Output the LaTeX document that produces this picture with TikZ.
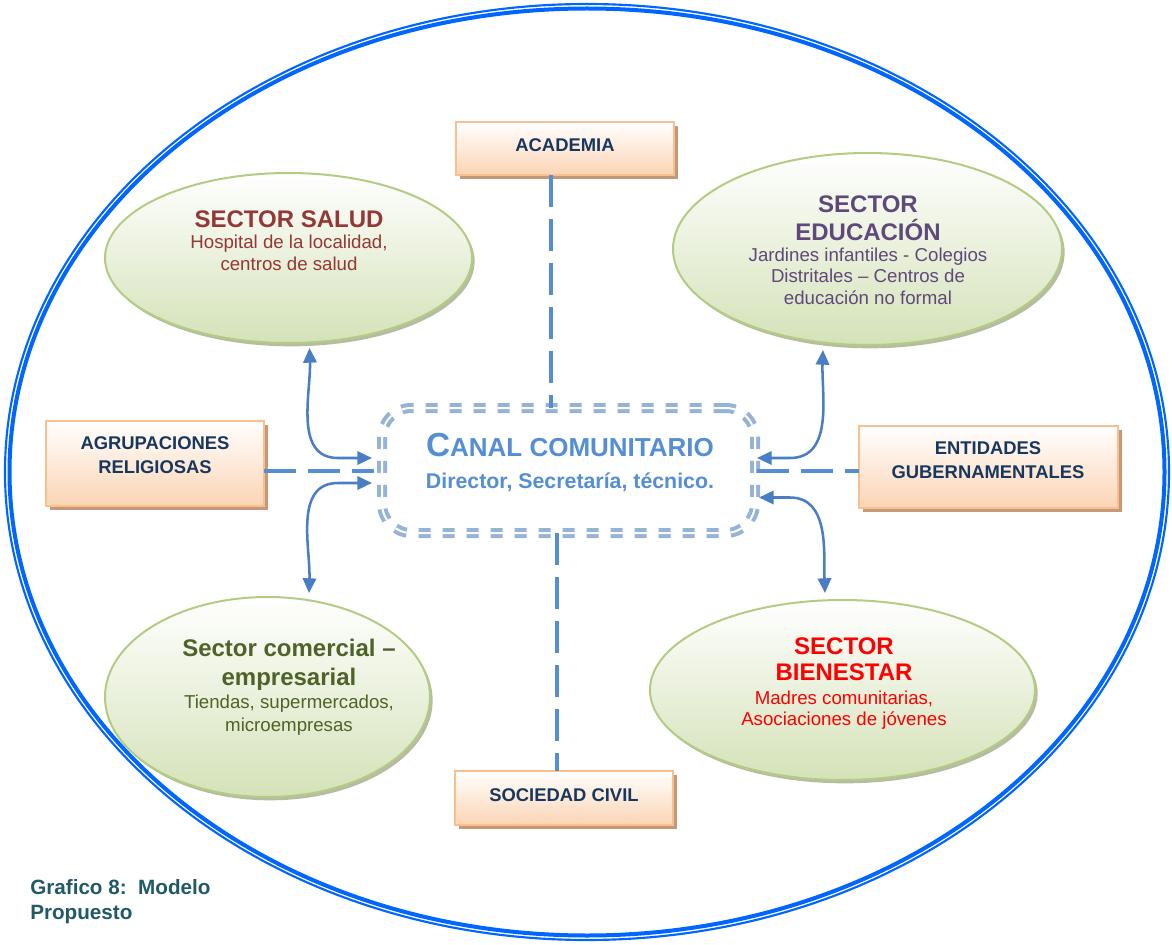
\documentclass[tikz,border=0pt]{standalone}
\usepackage{fontspec}
\setmainfont{Liberation Sans}
\usetikzlibrary{shapes.geometric,shadows,arrows.meta,calc}
\definecolor{outerblue}{RGB}{0,102,255}
\definecolor{ellborder}{RGB}{180,204,130}
\definecolor{ellfill}{RGB}{212,226,184}
\definecolor{ellshadow}{RGB}{150,160,125}
\definecolor{boxborder}{RGB}{250,191,143}
\definecolor{boxfill}{RGB}{251,212,180}
\definecolor{boxshadow}{RGB}{196,152,120}
\definecolor{canalb}{RGB}{149,179,215}
\definecolor{dashc}{RGB}{85,142,213}
\definecolor{arrowc}{RGB}{74,126,196}
\definecolor{saludc}{RGB}{149,55,53}
\definecolor{educc}{RGB}{95,73,122}
\definecolor{comc}{RGB}{79,98,40}
\definecolor{bienc}{RGB}{255,0,0}
\definecolor{navyc}{RGB}{23,55,94}
\definecolor{canalt}{RGB}{85,142,213}
\definecolor{capc}{RGB}{33,89,104}
\newcommand{\pxu}{0.75pt}
\newcommand{\hd}{\fontsize{18}{20}\selectfont\bfseries}
\begin{document}
\begin{tikzpicture}[x=0.75pt,y=0.75pt,
  sect/.style={ellipse, draw=ellborder, line width=1.5pt, top color=white, bottom color=ellfill, inner sep=0, outer sep=0,
     drop shadow={shadow xshift=2pt, shadow yshift=-2.5pt, fill=ellshadow, opacity=.7}},
  obox/.style={rectangle, draw=boxborder, line width=1.5pt, top color=white, bottom color=boxfill, inner sep=0, outer sep=0,
     drop shadow={shadow xshift=3pt, shadow yshift=-3pt, fill=boxshadow, opacity=1}},
  txt/.style={inner sep=0, align=center, anchor=north},
  boxtxt/.style={txt, text=navyc, font=\fontsize{13.8}{18}\selectfont\bfseries},
  dline/.style={draw=dashc, line width=3pt, dash pattern=on 24pt off 9pt},
  biarrow/.style={draw=arrowc, line width=1.9pt, {Triangle[length=11pt,width=10pt]}-{Triangle[length=11pt,width=10pt]}}
]
\useasboundingbox (0,0) rectangle (1172,-945);
\fill[white] (0,0) rectangle (1172,-945);

% outer double ellipse
\draw[outerblue, line width=1.6pt] (587,-472) ellipse [x radius=582, y radius=468];
\draw[outerblue, line width=3pt] (587,-472) ellipse [x radius=577.5, y radius=463.5];

% sector ellipses
\node[sect, minimum width=367*\pxu, minimum height=170*\pxu] (salud) at (288.5,-258) {};
\node[sect, minimum width=389*\pxu, minimum height=192*\pxu] (educacion) at (867.5,-249) {};
\node[sect, minimum width=325*\pxu, minimum height=200*\pxu] (comercial) at (267.5,-697) {};
\node[sect, minimum width=385*\pxu, minimum height=180*\pxu] (bienestar) at (842.5,-690) {};

% boxes
\node[obox, minimum width=218*\pxu, minimum height=53*\pxu] (academia) at (565,-148.5) {};
\node[obox, minimum width=218*\pxu, minimum height=85*\pxu] (agru) at (155,-463.5) {};
\node[obox, minimum width=259*\pxu, minimum height=82*\pxu] (entidades) at (988.5,-467) {};
\node[obox, minimum width=218*\pxu, minimum height=54*\pxu] (sociedad) at (564,-798) {};

% central box
\node[rectangle, draw=canalb, double=white, double distance=1.5pt, line width=3pt, dash pattern=on 9pt off 9pt,
      rounded corners=22pt, minimum width=373*\pxu, minimum height=125*\pxu, inner sep=0, outer sep=0] (canal) at (568.5,-470.5) {};

% texts
\node[txt, text=saludc, font=\fontsize{14}{16.5}\selectfont] (saludT) at (289,-210)
  {{\hd SECTOR SALUD}\\[-0.5pt]Hospital de la localidad,\\centros de salud};
\node[txt, text=educc, font=\fontsize{14}{16}\selectfont] (educacionT) at (868,-195)
  {{\hd SECTOR}\\[4.25pt]{\hd EDUCACIÓN}\\[-0.25pt]Jardines infantiles - Colegios\\Distritales – Centros de\\educación no formal};
\node[txt, text=comc, font=\fontsize{14}{17.5}\selectfont] (comercialT) at (289,-639)
  {{\hd Sector comercial –}\\[4pt]{\hd empresarial}\\Tiendas, supermercados,\\microempresas};
\node[txt, text=bienc, font=\fontsize{14}{16}\selectfont] (bienestarT) at (844,-637)
  {{\hd SECTOR}\\[3.5pt]{\hd BIENESTAR}\\[2pt]Madres comunitarias,\\Asociaciones de jóvenes};

\node[boxtxt] (academiaT) at (565,-138) {ACADEMIA};
\node[boxtxt] (agruT) at (155,-436) {AGRUPACIONES\\RELIGIOSAS};
\node[boxtxt] (entidadesT) at (988,-441) {ENTIDADES\\GUBERNAMENTALES};
\node[boxtxt] (sociedadT) at (564,-788) {SOCIEDAD CIVIL};

\node[txt, text=canalt, font=\fontsize{16}{19}\selectfont\bfseries] (canalT) at (570,-433)
  {{\fontsize{25}{26}\selectfont C}{\fontsize{19.5}{21}\selectfont ANAL COMUNITARIO}\\[5pt]Director, Secretaría, técnico.};

\node[anchor=north west, inner sep=0, align=left, text=capc, font=\fontsize{15.5}{18.75}\selectfont\bfseries] (caption) at (30,-879)
  {Grafico 8:\ \ Modelo\\Propuesto};

% dashed connectors
\draw[dline] ($(academia.south)+(-14,0)$) -- ($(canal.north)+(-17.5,0)$);
\draw[dline] ($(canal.south)+(-12,0)$) -- ($(sociedad.north)+(-7.5,0)$);
\draw[dline] ($(agru.east)+(0,-7)$) -- ($(canal.west)+(-8,0)$);
\draw[dline] ($(canal.east)+(2,0)$) -- ($(entidades.west)+(0,-3.5)$);

% curved double arrows
\draw[biarrow] ($(salud.south)+(21,-5)$) to[out=-88,in=180] ($(canal.west)+(-44,12.5)$) -- ($(canal.west)+(-10,12.5)$);
\draw[biarrow] ($(comercial.north)+(41.5,4)$) to[out=88,in=180] ($(canal.west)+(-44,-12.5)$) -- ($(canal.west)+(-10,-12.5)$);
\draw[biarrow] ($(educacion.south)+(-44.5,-5)$) to[out=-92,in=0] ($(canal.east)+(35,12.5)$) -- ($(canal.east)+(2,12.5)$);
\draw[biarrow] ($(bienestar.north)+(-17.5,7)$) to[out=92,in=0] ($(canal.east)+(35,-27)$) -- ($(canal.east)+(4,-27)$);
\end{tikzpicture}
\end{document}
